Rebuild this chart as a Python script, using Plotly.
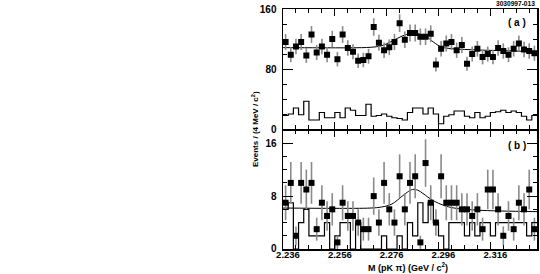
import numpy as np
import plotly.graph_objects as go

# ---------------- data ----------------
BIN_LO = 2.236
BIN_W = 0.002
N_BINS = 49

# panel (a): signal-region counts (points) and side-band histogram
top_counts = [116, 99, 110, 116, 98, 126, 102, 110, 99, 120,
              93, 126, 108, 103, 91, 92, 97, 136, 115, 105,
              109, 116, 141, 119, 128, 128, 123, 123, 127, 86,
              107, 114, 116, 105, 112, 87, 100, 107, 96, 100,
              96, 108, 104, 99, 107, 114, 106, 104, 101]
top_hist = [18, 20, 28, 19, 37, 12, 12, 22, 15, 15,
            22, 15, 28, 25, 18, 18, 33, 17, 18, 20,
            17, 15, 14, 12, 22, 28, 28, 20, 28, 20,
            7, 17, 19, 24, 24, 17, 15, 22, 15, 17,
            22, 23, 25, 22, 24, 22, 17, 12, 18]

# panel (b)
bot_counts = [7, 10, 2, 10, 9, 10, 3, 7, 5, 6,
              1, 7, 5, 5, 4, 3, 3, 8, 4, 10,
              6, 4, 11, 6, 10, 11, 1, 13, 7, 4,
              11, 7, 7, 7, 6, 6, 5, 6, 3, 9,
              9, 6, 2, 5, 3, 7, 6, 9, 3]
bot_hist = [6, 7, 0, 4, 6, 2, 2, 2, 4, 0,
            2, 4, 4, 0, 4, 0, 0, 0, 0, 2,
            0, 0, 2, 0, 4, 2, 7, 4, 7, 4,
            2, 0, 4, 4, 4, 2, 4, 2, 4, 4,
            2, 4, 4, 4, 4, 4, 4, 2, 4]

# fit curves
top_fit_x = [2.236, 2.250, 2.262, 2.270, 2.274, 2.278, 2.282, 2.285, 2.288,
             2.291, 2.294, 2.297, 2.300, 2.310, 2.320, 2.334]
top_fit_y = [108.5, 108.3, 108.3, 109.0, 111.0, 117.0, 124.0, 127.0, 127.0,
             124.0, 116.0, 109.5, 107.5, 105.5, 104.5, 103.0]
bot_fit_x = [2.236, 2.256, 2.270, 2.274, 2.278, 2.282, 2.284, 2.286, 2.288,
             2.290, 2.294, 2.298, 2.302, 2.310, 2.320, 2.334]
bot_fit_y = [6.2, 6.15, 6.2, 6.35, 6.8, 8.0, 8.6, 9.0, 8.9,
             8.4, 7.3, 6.6, 6.2, 5.9, 5.75, 5.65]

x_tick_vals = [2.236, 2.256, 2.276, 2.296, 2.316]
x_tick_text = ["2.236", "2.256", "2.276", "2.296", "2.316"]
top_y_ticks = [0, 80, 160]
bot_y_ticks = [0, 8, 16]

# ---------------- derived bin geometry ----------------
edges = BIN_LO + BIN_W * np.arange(N_BINS + 1)
centers = edges[:-1] + BIN_W / 2

FONT = "Liberation Sans, Arial, Helvetica, sans-serif"
ERR_COL = "#8a8a8a"

fig = go.Figure()

def add_panel(xa, ya, counts, hist, fx, fy):
    fig.add_trace(go.Scatter(
        x=edges, y=list(hist) + [hist[-1]], mode="lines",
        line=dict(shape="hv", color="black", width=1.2),
        xaxis=xa, yaxis=ya, hoverinfo="skip"))
    fig.add_trace(go.Scatter(
        x=fx, y=fy, mode="lines", line=dict(color="black", width=1, shape="spline"),
        xaxis=xa, yaxis=ya, hoverinfo="skip"))
    fig.add_trace(go.Scatter(
        x=centers, y=counts, mode="markers",
        marker=dict(symbol="square", size=6, color="black", line=dict(width=0)),
        error_y=dict(type="sqrt", color=ERR_COL, thickness=1.6, width=0),
        xaxis=xa, yaxis=ya, hoverinfo="skip"))

add_panel("x2", "y2", top_counts, top_hist, top_fit_x, top_fit_y)
add_panel("x", "y", bot_counts, bot_hist, bot_fit_x, bot_fit_y)

common_x = dict(range=[edges[0], edges[-1]], showline=True, linecolor="black",
                linewidth=1.5, mirror="allticks", ticks="inside", ticklen=7,
                tickwidth=1, tickcolor="black", tickmode="array",
                tickvals=x_tick_vals, ticktext=x_tick_text,
                minor=dict(dtick=0.005, tick0=2.236, ticks="inside", ticklen=4,
                           tickcolor="black", tickwidth=1),
                showgrid=False, zeroline=False, fixedrange=True)
common_y = dict(showline=True, linecolor="black", linewidth=1.5, mirror="allticks",
                ticks="inside", ticklen=10, tickwidth=1, tickcolor="black",
                showgrid=False, zeroline=False, fixedrange=True,
                ticklabelstandoff=3,
                tickfont=dict(family=FONT, size=10, color="black", weight="bold"))

fig.update_layout(
    width=540, height=274,
    margin=dict(l=283, r=3, t=9, b=25, autoexpand=False),
    paper_bgcolor="white", plot_bgcolor="white",
    showlegend=False, hovermode=False,
    xaxis=dict(common_x, anchor="y", domain=[0, 1],
               tickfont=dict(family=FONT, size=9.5, color="black", weight="bold"),
               ticklabelshift=5, ticklabelstandoff=-4),
    xaxis2=dict(common_x, anchor="y2", matches="x", showticklabels=False),
    yaxis=dict(common_y, anchor="x", domain=[0, 0.4958], range=[0, 18],
               tickmode="array", tickvals=bot_y_ticks,
               minor=dict(dtick=2, ticks="inside", ticklen=4, tickcolor="black", tickwidth=1)),
    yaxis2=dict(common_y, anchor="x2", domain=[0.5, 1], range=[0, 160],
                tickmode="array", tickvals=top_y_ticks,
                minor=dict(dtick=20, ticks="inside", ticklen=4, tickcolor="black", tickwidth=1)),
)

fig.add_annotation(text="Events / (4 MeV / c<sup>2</sup>)", xref="paper", yref="paper",
                   x=(255 - 283) / 254, y=0.5, textangle=-90, showarrow=False,
                   font=dict(family=FONT, size=8, color="black", weight="bold"),
                   xanchor="center", yanchor="middle")
fig.add_annotation(text="M (pK \u03c0) (GeV / c<sup>2</sup>)", xref="paper", yref="paper",
                   x=(408 - 283) / 254, y=(249 - 266.5) / 240, showarrow=False,
                   font=dict(family=FONT, size=9, color="black", weight="bold"),
                   xanchor="center", yanchor="middle")
fig.add_annotation(text="3030997-013", xref="paper", yref="paper",
                   x=(515.5 - 283) / 254, y=(249 - 3.5) / 240, showarrow=False,
                   font=dict(family=FONT, size=6.6, color="black", weight="bold"),
                   xanchor="center", yanchor="middle")
fig.add_annotation(text="( a )", xref="paper", yref="paper",
                   x=(516.7 - 283) / 254, y=(249 - 22.3) / 240, showarrow=False,
                   font=dict(family=FONT, size=10, color="black", weight="bold"),
                   xanchor="center", yanchor="middle")
fig.add_annotation(text="( b )", xref="paper", yref="paper",
                   x=(516.5 - 283) / 254, y=(249 - 145) / 240, showarrow=False,
                   font=dict(family=FONT, size=10, color="black", weight="bold"),
                   xanchor="center", yanchor="middle")

fig.write_html("out.html", config={"displayModeBar": False, "staticPlot": True},
               post_script="document.body.style.margin='0';document.body.style.overflow='hidden';")
